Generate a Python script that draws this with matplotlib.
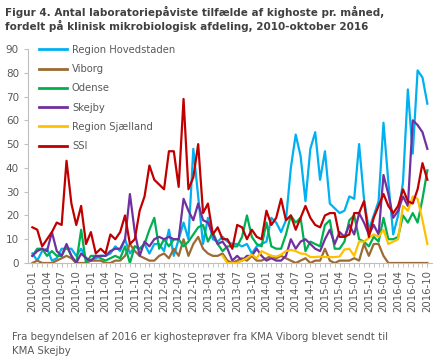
import numpy as np
import matplotlib.pyplot as plt
from matplotlib.lines import Line2D

plt.rcParams['font.family'] = ['DejaVu Sans']

# måneder 2010-01 .. 2016-10
months = [f"{y}-{m:02d}" for y in range(2010, 2017) for m in range(1, 13)][:82]

hovedstaden = [4, 1, 5, 6, 1, 2, 6, 6, 6, 3,
               6, 2, 1, 2, 3, 3, 4, 7, 5, 10,
               4, 7, 6, 8, 4, 8, 8, 5, 14, 3,
               10, 17, 10, 48, 28, 8, 19, 10, 9, 11,
               9, 8, 8, 7, 8, 4, 7, 8, 9, 19,
               17, 13, 18, 40, 54, 45, 26, 48, 55, 35,
               47, 25, 23, 21, 22, 28, 27, 50, 27, 14,
               20, 26, 59, 34, 12, 20, 34, 73, 46, 81,
               78, 67]
viborg = [0, 1, 0, 0, 0, 1, 2, 3, 2, 0,
          0, 0, 1, 1, 1, 0, 0, 1, 1, 3,
          8, 5, 3, 2, 1, 1, 3, 4, 2, 6,
          3, 10, 3, 8, 11, 6, 4, 3, 3, 4,
          1, 0, 1, 2, 1, 3, 1, 1, 2, 3,
          2, 3, 2, 1, 0, 1, 2, 0, 1, 1,
          6, 1, 0, 1, 1, 1, 2, 1, 8, 3,
          8, 8, 3, 0, 0, 0, 0, 0, 0, 0,
          0, 0]
odense = [3, 6, 6, 3, 5, 3, 3, 7, 3, 0,
          14, 0, 3, 3, 2, 1, 2, 3, 2, 7,
          0, 7, 6, 8, 14, 19, 6, 10, 7, 10,
          10, 7, 9, 12, 15, 16, 9, 13, 8, 5,
          7, 7, 7, 11, 20, 11, 8, 7, 17, 7,
          6, 6, 12, 20, 17, 19, 5, 9, 8, 7,
          16, 18, 6, 6, 9, 18, 20, 10, 9, 7,
          11, 9, 19, 10, 10, 11, 20, 17, 21, 17,
          27, 39]
skejby = [3, 5, 6, 5, 13, 5, 3, 8, 3, 0,
          4, 2, 1, 3, 3, 3, 5, 6, 6, 10,
          29, 13, 3, 9, 7, 10, 11, 10, 11, 10,
          10, 27, 22, 18, 25, 18, 17, 12, 8, 9,
          6, 1, 3, 1, 3, 3, 6, 3, 1, 2,
          1, 1, 3, 10, 6, 9, 10, 8, 6, 5,
          10, 14, 8, 13, 11, 16, 12, 21, 17, 12,
          16, 12, 37, 29, 19, 22, 28, 24, 60, 58,
          55, 48]
# Region Sjælland først med fra 2013-04
sjaelland = [np.nan] * 39 + [3, 0, 0, 0, 1, 2, 3.5, 2, 5, 4,
                             3, 2.7, 3.5, 5, 5.5, 5, 4, 3.8, 2.5, 2.5,
                             2.7, 2.5, 2.5, 2.5, 2.7, 5.7, 6, 3, 9, 9,
                             10.5, 12, 11, 14, 8, 9, 10, 24, 22, 28,
                             27, 18, 8]
ssi = [15, 14, 7, 10, 13, 17, 16, 43, 25, 16,
       24, 8, 13, 4, 6, 4, 12, 10, 13, 20,
       8, 10, 22, 28, 41, 35, 33, 31, 47, 47,
       32, 69, 31, 36, 50, 21, 25, 12, 15, 10,
       10, 6, 16, 15, 10, 14, 11, 10, 22, 16,
       19, 27, 18, 20, 14, 19, 24, 19, 16, 15,
       20, 21, 21, 11, 11, 12, 21, 21, 26, 11,
       19, 24, 29, 24, 21, 24, 31, 26, 25, 31,
       42, 35]

series = [("Region Hovedstaden", hovedstaden, "#00B0F0"),
          ("Viborg", viborg, "#9C6A32"),
          ("Odense", odense, "#00B050"),
          ("Skejby", skejby, "#7030A0"),
          ("Region Sjælland", sjaelland, "#FFC000"),
          ("SSI", ssi, "#C00000")]

grey = "#595959"
fig = plt.figure(figsize=(4.4, 3.64), dpi=100)
ax = fig.add_axes([28 / 440, 101 / 364, 404 / 440, 214 / 364])

x = np.arange(len(months))
for name, vals, col in series:
    ax.plot(x, vals, color=col, lw=1.6, label=name, solid_joinstyle='round')

ax.set_xlim(-0.9, 81.95)
ax.set_ylim(0, 90)
ax.set_yticks(range(0, 91, 10))
ax.set_xticks(x[::3])
ax.set_xticklabels(months[::3], rotation=90, fontsize=7.3, color=grey)
ax.set_xticks(x, minor=True)
ax.tick_params(axis='y', labelsize=7.5, colors=grey, length=3, color="#BFBFBF")
ax.tick_params(axis='x', which='both', length=3, color="#BFBFBF", pad=2)
for s in ['top', 'right']:
    ax.spines[s].set_visible(False)
for s in ['left', 'bottom']:
    ax.spines[s].set_color("#BFBFBF")
    ax.spines[s].set_linewidth(0.8)

handles = [Line2D([], [], color=c, lw=2) for _, _, c in series]
ax.legend(handles, [n for n, _, _ in series], loc='upper left', frameon=False,
          fontsize=7.2, labelcolor=grey, handlelength=2.8, handletextpad=0.5,
          labelspacing=0.93, borderaxespad=0, borderpad=0,
          bbox_to_anchor=(0.027, 1.02))

fig.text(0.011, 0.985, "Figur 4. Antal laboratoriepåviste tilfælde af kighoste pr. måned,\n"
                       "fordelt på klinisk mikrobiologisk afdeling, 2010-oktober 2016",
         ha='left', va='top', fontsize=7.5, fontweight='bold', color="#404040",
         linespacing=1.25)
fig.text(0.027, 0.088, "Fra begyndelsen af 2016 er kighosteprøver fra KMA Viborg blevet sendt til\n"
                       "KMA Skejby", ha='left', va='top', fontsize=7.3, color=grey,
         linespacing=1.45)

fig.savefig("out.png", dpi=100)
